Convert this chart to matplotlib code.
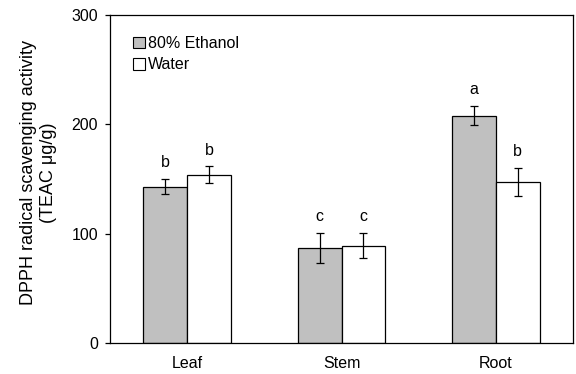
import matplotlib.pyplot as plt
import numpy as np
from matplotlib.patches import Patch

plt.rcParams['font.family'] = ['Liberation Sans', 'DejaVu Sans']

parts = ["Leaf", "Stem", "Root"]
ethanol = [143, 87, 208]
ethanol_err = [7, 14, 9]
water = [154, 89, 147]
water_err = [7.5, 11.5, 13]
ethanol_sig = ["b", "c", "a"]
water_sig = ["b", "c", "b"]

fig = plt.figure(figsize=(5.76, 3.74), dpi=100)
ax = fig.add_axes([110 / 576, 1 - 343 / 374, 463 / 576, 328 / 374])

x = np.arange(len(parts))
w = 0.285
err_kw = dict(ecolor="black", elinewidth=0.9, capsize=3, capthick=0.9)
ax.bar(x - w / 2, ethanol, w, yerr=ethanol_err, color="#c0c0c0",
       edgecolor="black", linewidth=0.9, error_kw=err_kw)
ax.bar(x + w / 2, water, w, yerr=water_err, color="white",
       edgecolor="black", linewidth=0.9, error_kw=err_kw)

# significance letters above the error bars
for xi, v, e, s in zip(x - w / 2, ethanol, ethanol_err, ethanol_sig):
    ax.annotate(s, (xi, v + e), xytext=(0, 8.5), textcoords="offset points",
                ha="center", va="baseline", fontsize=11.5)
for xi, v, e, s in zip(x + w / 2, water, water_err, water_sig):
    ax.annotate(s, (xi, v + e), xytext=(0, 8.5), textcoords="offset points",
                ha="center", va="baseline", fontsize=11.5)

ax.set_xlim(-0.5, 2.5)
ax.set_ylim(0, 300)
ax.set_yticks([0, 100, 200, 300])
ax.set_xticks(x)
ax.set_xticklabels(parts)
ax.tick_params(axis="x", length=0, labelsize=11.5, pad=9)
ax.tick_params(axis="y", direction="out", length=3.5, width=0.9, labelsize=11.5, pad=5)
for sp in ax.spines.values():
    sp.set_linewidth(0.9)

ax.set_ylabel("DPPH radical scavenging activity\n(TEAC μg/g)", fontsize=13)
ax.yaxis.set_label_coords(-0.1145, 0.52)

handles = [Patch(facecolor="#c0c0c0", edgecolor="black", linewidth=0.8),
           Patch(facecolor="white", edgecolor="black", linewidth=0.8)]
ax.legend(handles, ["80% Ethanol", "Water"], loc="upper left", frameon=False,
          fontsize=11.5, handlelength=0.75, handleheight=0.75, handletextpad=0.2,
          labelspacing=0.4, bbox_to_anchor=(0.019, 0.98))

fig.savefig("out.png", dpi=100)
